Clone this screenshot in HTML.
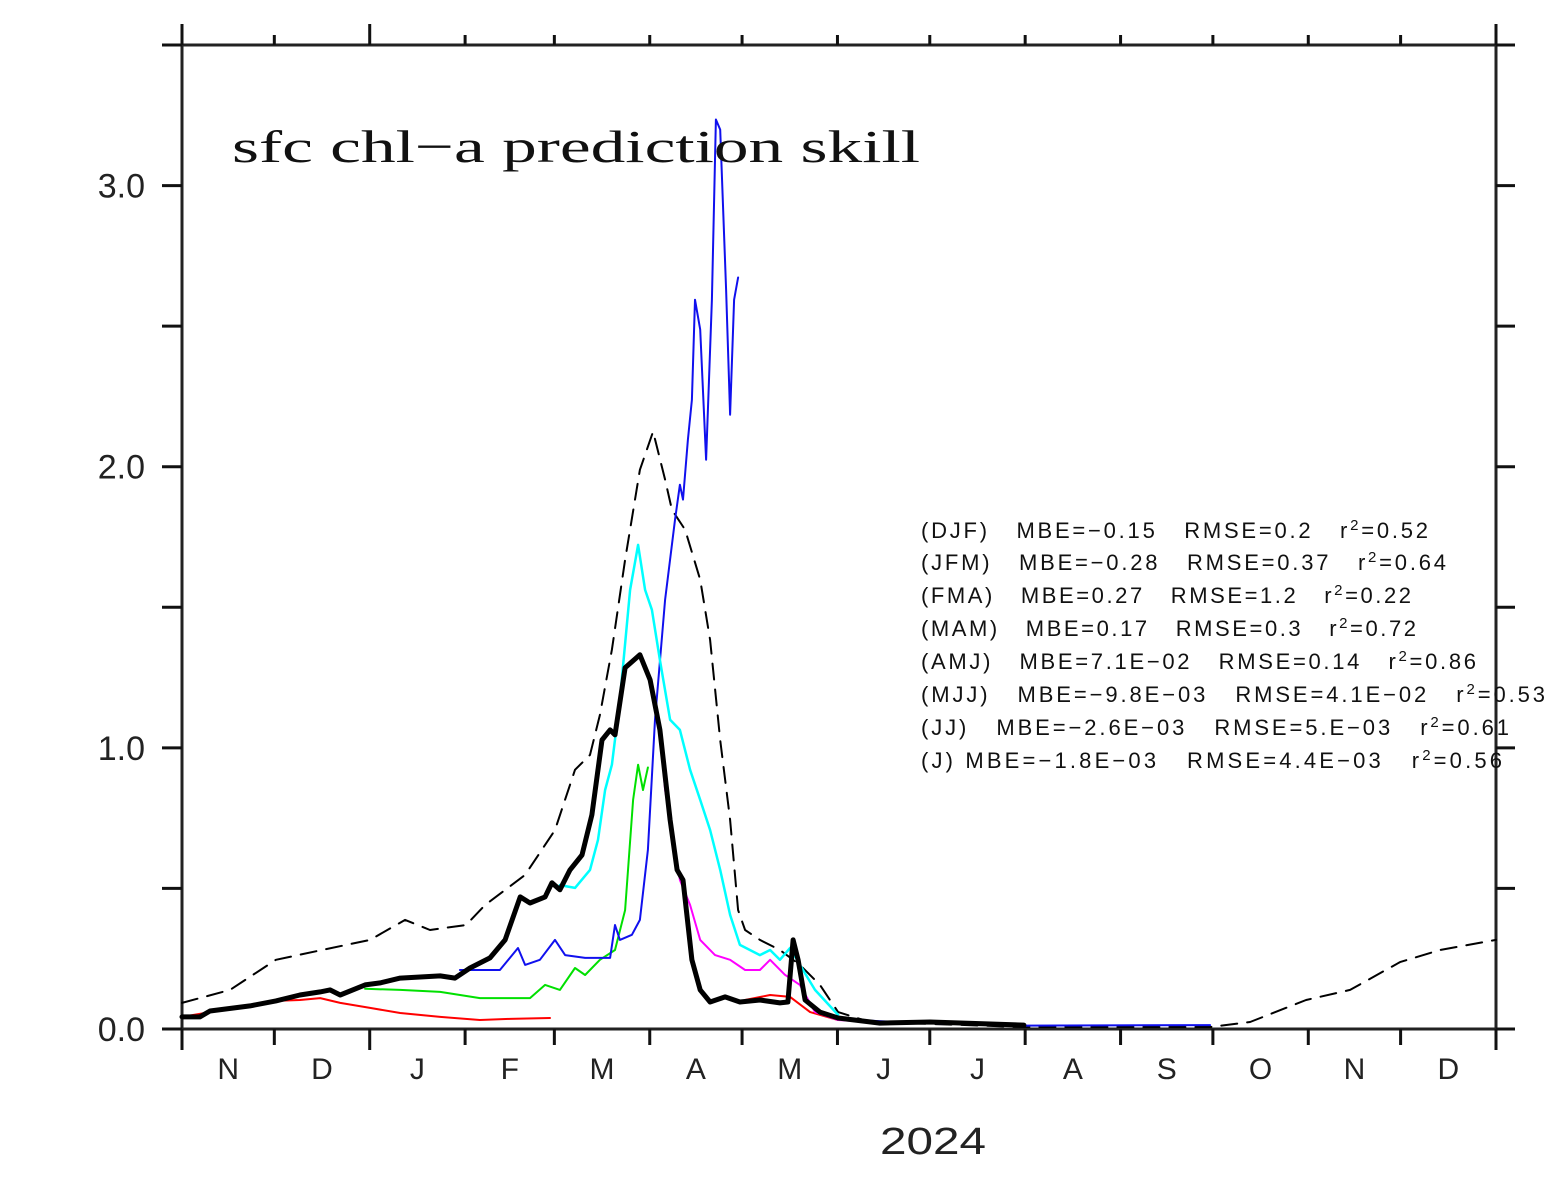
<!DOCTYPE html>
<html><head><meta charset="utf-8"><style>
html,body{margin:0;padding:0;background:#fff}
svg{display:block}
.lg text{white-space:pre}
</style></head><body>
<svg id="chart" width="1556" height="1182" viewBox="0 0 1556 1182" xmlns="http://www.w3.org/2000/svg" font-family="Liberation Sans, sans-serif">
<g id="frame" stroke="#222" stroke-width="3" fill="none">
<line x1="162" y1="45" x2="1515" y2="45"/>
<line x1="162" y1="1029" x2="1515" y2="1029"/>
<line x1="182" y1="45" x2="182" y2="1029"/>
<line x1="1496" y1="45" x2="1496" y2="1029"/>
</g>
<g id="ticks" stroke="#111" stroke-width="3"></g>
<g id="ylabels" font-size="34" fill="#222" text-anchor="end"></g>
<g id="xlabels" font-size="30" fill="#222" text-anchor="middle"></g>
<g id="series" fill="none" stroke-linejoin="round" stroke-linecap="round"></g>
<text x="232" y="162" font-family="Liberation Serif, serif" font-size="46" fill="#111" textLength="688" lengthAdjust="spacingAndGlyphs">sfc chl−a prediction skill</text>
<text x="933" y="1154" font-size="38" fill="#222" text-anchor="middle" textLength="106" lengthAdjust="spacingAndGlyphs">2024</text>
<g class="lg" font-size="22" fill="#111">
<text x="921" y="538" textLength="507">(DJF)   MBE=−0.15   RMSE=0.2   r<tspan dy="-8" font-size="15">2</tspan><tspan dy="8">=0.52</tspan></text>
<text x="921" y="570" textLength="525">(JFM)   MBE=−0.28   RMSE=0.37   r<tspan dy="-8" font-size="15">2</tspan><tspan dy="8">=0.64</tspan></text>
<text x="921" y="603" textLength="490">(FMA)   MBE=0.27   RMSE=1.2   r<tspan dy="-8" font-size="15">2</tspan><tspan dy="8">=0.22</tspan></text>
<text x="921" y="636" textLength="495">(MAM)   MBE=0.17   RMSE=0.3   r<tspan dy="-8" font-size="15">2</tspan><tspan dy="8">=0.72</tspan></text>
<text x="921" y="669" textLength="555">(AMJ)   MBE=7.1E−02   RMSE=0.14   r<tspan dy="-8" font-size="15">2</tspan><tspan dy="8">=0.86</tspan></text>
<text x="921" y="702" textLength="624">(MJJ)   MBE=−9.8E−03   RMSE=4.1E−02   r<tspan dy="-8" font-size="15">2</tspan><tspan dy="8">=0.53</tspan></text>
<text x="921" y="735" textLength="588">(JJ)   MBE=−2.6E−03   RMSE=5.E−03   r<tspan dy="-8" font-size="15">2</tspan><tspan dy="8">=0.61</tspan></text>
<text x="921" y="768" textLength="581">(J) MBE=−1.8E−03   RMSE=4.4E−03   r<tspan dy="-8" font-size="15">2</tspan><tspan dy="8">=0.56</tspan></text>
</g>
</svg>
<script>
const monthLabels=["N","D","J","F","M","A","M","J","J","A","S","O","N","D"];
const monthLengths=[30,31,31,29,31,30,31,30,31,31,30,31,30,31];
const yTicks=[0,0.5,1,1.5,2,2.5,3,3.5];
const yLabels=["0.0","1.0","2.0","3.0"];
const yLabelVals=[0,1,2,3];

const obsDays=[0,15.6,30.5,45.5,61.1,72.5,80.6,92.3,98.5,111.5,121.2,127.7,132.6,135.8,139.7,144,148.8,153.1,157,159.2,163.5,168.4,171.6,174.9,178.1,180.7,183,187.8,194.3,200.8,207.3,213.2,223.6,243.1,273.6,334.1,347.1,365.3,379.6,395.8,408.8,427];
const obsVals=[.093,.139,.246,.281,.317,.388,.352,.37,.441,.548,.708,.922,.975,1.117,1.349,1.669,1.989,2.125,1.954,1.847,1.776,1.598,1.384,1.028,.744,.423,.352,.317,.281,.228,.157,.06,.025,.018,.007,.007,.025,.103,.139,.238,.281,.317];

const bestDays=[0,5.8,9.1,22.1,30.5,38.3,44.9,48.1,51.4,59.5,64.4,70.9,83.9,88.7,93.6,100.1,105,109.9,113.1,118,120.2,122.8,126.1,130,133.2,136.5,139.1,140.7,144,148.8,152.1,155.3,158.6,160.9,162.8,165.7,168.4,171.6,176.5,181.3,187.8,194.3,196.9,198.6,200.2,202.5,207.3,213.2,226.8,243.1,273.6];
const bestVals=[.043,.043,.064,.082,.1,.121,.132,.139,.121,.157,.164,.181,.189,.181,.217,.253,.317,.47,.448,.47,.52,.495,.566,.619,.762,1.028,1.064,1.046,1.285,1.331,1.242,1.064,.744,.566,.53,.246,.139,.096,.114,.096,.103,.093,.096,.317,.246,.103,.06,.039,.021,.025,.014];

const redDays=[0,30.5,38.3,44.9,51.4,61.1,70.9,83.9,96.8,106.6,119.6];
const redVals=[.043,.1,.103,.11,.093,.075,.057,.043,.032,.036,.039];
const red2Days=[183,191.1,197.6,204.1,213.2];
const red2Vals=[.103,.121,.114,.06,.032];

const greenDays=[59.5,70.9,83.9,96.8,103.3,113.1,118,122.8,127.7,131,135.8,140.7,144,146.6,148.2,149.8,151.4];
const greenVals=[.143,.139,.132,.11,.11,.11,.157,.139,.217,.192,.246,.281,.423,.815,.94,.85,.93];

const blueDays=[90.3,103.3,109.2,111.5,116.3,121.2,124.5,131,139.1,140.7,142.3,146.2,148.8,151.4,153.7,157,160.2,161.8,162.8,164.4,165.7,166.7,168.4,170.3,172.2,173.5,174.9,176.8,178.1,179.4,180.7];
const blueVals=[.21,.21,.288,.228,.246,.317,.263,.253,.253,.37,.317,.335,.388,.637,1.1,1.527,1.811,1.936,1.883,2.096,2.238,2.594,2.488,2.025,2.594,3.235,3.199,2.63,2.185,2.594,2.673];
const blue2Days=[213.2,243.1,273.6,334.1];
const blue2Vals=[.035,.02,.012,.014];

const cyanDays=[122.8,127.7,132.6,135.2,137.5,139.7,142.3,145.6,148.2,150.5,152.7,155.3,158.6,161.8,165.1,168.4,171.6,174.9,178.1,181.3,187.8,191.1,194.3,197.6,200.8,205.7,213.2];
const cyanVals=[.512,.502,.566,.673,.85,.94,1.171,1.562,1.722,1.562,1.491,1.313,1.1,1.064,.922,.815,.708,.566,.406,.299,.263,.281,.246,.288,.228,.139,.05];

const magDays=[155.3,157,161.8,165.1,168.4,173.2,178.1,183,187.8,191.1,195.9,200.8,205.7,213.2,223.6];
const magVals=[1.064,.85,.53,.441,.317,.263,.246,.21,.21,.246,.193,.157,.06,.032,.025];

const NS="http://www.w3.org/2000/svg";
const X0=182,X1=1496,Y0=1029,YMAX=3.5,Y1=45,TOTAL=427;
function xs(d){return X0+d*(X1-X0)/TOTAL;}
function ys(v){return Y0-v*(Y0-Y1)/YMAX;}
function mk(tag,attrs,parent){const e=document.createElementNS(NS,tag);for(const k in attrs)e.setAttribute(k,attrs[k]);parent.appendChild(e);return e;}

const ticks=document.getElementById('ticks');
yTicks.forEach(v=>{
  const y=ys(v);
  const l=mk('line',{x1:162,y1:y,x2:182,y2:y},ticks);
  
  
  const r=mk('line',{x1:1496,y1:y,x2:1515,y2:y},ticks);
  
  
});
const yl=document.getElementById('ylabels');
yLabelVals.forEach((v,i)=>{
  const t=mk('text',{x:145,y:ys(v)+12},yl);
  t.textContent=yLabels[i];
  
  
});
const xl=document.getElementById('xlabels');
let cum=0;
const bounds=[0];
monthLengths.forEach(m=>{cum+=m;bounds.push(cum);});
bounds.forEach((d,i)=>{
  const x=xs(d);
  const major=(d===61||d===427||d===0);
  const b=mk('line',{x1:x,y1:1029,x2:x,y2:major?1050:1045},ticks);
  
  
  const t=mk('line',{x1:x,y1:45,x2:x,y2:major?24:35},ticks);
  
  
});
monthLabels.forEach((m,i)=>{
  const t=mk('text',{x:xs((bounds[i]+bounds[i+1])/2),y:1079},xl);
  t.textContent=m;
  
  
});

const sg=document.getElementById('series');
function line(days,vals,color,w,name,dash){
  const pts=days.map((d,i)=>xs(d).toFixed(1)+','+ys(vals[i]).toFixed(1)).join(' ');
  const p=mk('polyline',{points:pts,stroke:color,'stroke-width':w},sg);
  if(dash)p.setAttribute('stroke-dasharray',dash);
  
  
}
line(obsDays,obsVals,'#000',2,'observed-dashed-line','16 10');
line(redDays,redVals,'#ff0000',2,'red-forecast-line');
line(red2Days,red2Vals,'#ff0000',2,'red-forecast-line-may');
line(greenDays,greenVals,'#00e000',2,'green-forecast-line');
line(blueDays,blueVals,'#1010ee',2,'blue-forecast-line');
line(blue2Days,blue2Vals,'#1010ee',2,'blue-forecast-line-summer');
line(cyanDays,cyanVals,'#00ffff',2.5,'cyan-forecast-line');
line(magDays,magVals,'#ff00ff',2,'magenta-forecast-line');
line(bestDays,bestVals,'#000',5,'thick-black-line');
</script>
</body></html>
